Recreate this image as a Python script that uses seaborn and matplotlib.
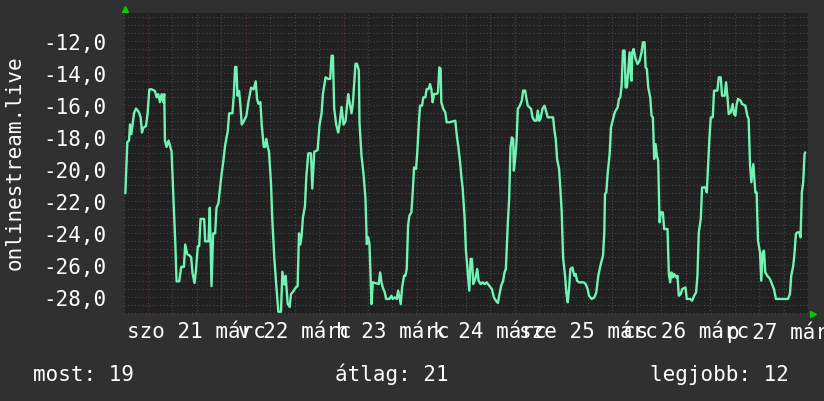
import pandas as pd
import matplotlib
matplotlib.use("Agg")
import matplotlib.pyplot as plt
from matplotlib.ticker import MultipleLocator, FixedLocator
import seaborn as sns

# hours since fri 18:00 (márc 20) and the measured values
hours = [0.45, 0.61, 0.94, 1.35, 1.59, 1.92, 2.16, 2.57, 3.06, 3.71, 4.20, 4.53, 4.86, 5.51, 5.92,
         6.33, 6.90, 7.71, 8.12, 8.53, 8.94, 9.35, 9.75, 10.0, 10.16, 10.57, 11.06, 11.47, 11.80,
         12.20, 12.69, 13.02, 13.67, 14.16, 14.82, 15.14, 15.63, 16.29, 16.61, 16.94, 17.43, 17.75,
         18.24, 18.57, 18.90, 19.80, 20.04, 20.86, 21.18, 21.59, 22.0, 22.49, 22.82, 23.31, 23.63,
         24.12, 24.45, 24.94, 25.59, 25.92, 26.73, 27.06, 27.39, 27.71, 27.96, 28.37, 28.69, 29.02,
         29.51, 30.16, 30.65, 31.31, 31.96, 32.45, 32.77, 33.10, 33.59, 33.92, 34.41, 34.73, 35.06,
         35.39, 35.71, 36.20, 36.53, 37.02, 37.51, 38.0, 38.65, 38.98, 39.47, 39.80, 40.29, 40.78,
         41.10, 41.75, 42.24, 42.73, 43.06, 43.39, 43.71, 44.04, 44.53, 44.86, 45.35, 46.0, 46.33,
         46.82, 47.63, 48.12, 48.61, 48.94, 49.59, 50.25, 50.73, 51.06, 51.39, 51.71, 52.20, 52.69,
         53.02, 53.51, 54.0, 54.49, 55.14, 55.47, 55.96, 56.29, 56.94, 57.27, 57.76, 57.92,
         58.41, 58.90, 59.39, 59.71, 60.04, 60.37, 60.86, 61.18, 62.65, 62.98, 63.31, 63.63, 64.12,
         64.45, 65.27, 65.76, 66.08, 66.57, 67.06, 67.39, 67.71, 68.04, 68.37, 68.86, 69.18, 69.51,
         69.84, 70.16, 70.65, 70.98, 71.31, 71.80, 72.12, 72.45, 72.78, 73.27, 73.59, 74.08, 74.41,
         74.90, 75.22, 75.55, 75.88, 76.20, 76.86, 77.18, 77.51, 77.84, 78.0, 78.49, 78.98, 79.31,
         79.96, 81.43, 81.76, 82.24, 82.57, 82.90, 83.22, 83.71, 84.04, 84.45, 84.86, 85.18, 85.51,
         85.84, 86.33, 86.82, 87.14, 87.63, 88.12, 88.61, 89.10, 89.76, 90.41, 90.90, 91.39, 91.88,
         92.20, 92.69, 93.18, 93.51, 93.84, 94.33, 94.65, 94.98, 95.31, 95.63, 95.80, 96.12, 96.45,
         96.78, 97.27, 97.76, 98.08, 98.57, 98.90, 99.22, 100.04, 100.37, 100.86, 101.35, 101.67,
         102.0, 102.33, 102.82, 103.31, 103.80, 104.12, 105.43, 105.76, 106.08, 106.41, 106.90,
         107.22, 107.55, 107.88, 108.37, 108.69, 109.02, 109.35, 109.67, 110.16, 110.65, 110.98,
         111.31, 111.80, 112.94, 113.43, 113.92, 114.24, 114.90, 115.55, 116.04, 116.53,
         117.03, 117.35, 117.68, 118.0, 118.17, 118.49, 118.82, 119.31, 119.64, 119.96, 120.45,
         120.78, 121.27, 121.60, 121.92, 122.25, 122.58, 122.98, 123.23, 123.56, 123.88, 124.21,
         124.54, 124.70, 124.86, 125.19, 125.68, 126.17, 126.66, 127.15, 127.47, 127.88, 128.13,
         128.45, 128.78, 129.27, 129.60, 129.92, 130.25, 130.58, 130.90, 131.23, 131.56, 131.88,
         132.37, 132.70, 133.52, 133.84, 134.17, 134.49, 134.82, 135.15, 135.64, 135.96, 136.29,
         136.78, 137.11, 137.92, 138.25, 139.07, 139.56, 140.05, 140.53, 140.86, 141.19, 141.68,
         142.0, 142.82, 143.15, 143.47, 143.80, 144.13, 144.62, 144.94, 145.76, 146.09, 146.58,
         146.90, 147.55, 147.88, 148.21, 148.53, 149.02, 149.51, 149.84, 150.17, 150.49, 150.82,
         151.47, 151.80, 152.62, 153.11, 153.43, 153.76, 154.09, 154.58, 155.07, 155.39, 155.72,
         156.21, 156.53, 156.86, 157.19, 157.51, 158.0, 158.66, 159.15, 159.64, 160.13, 163.06,
         163.56, 163.88, 164.37, 164.70, 165.02, 165.35, 165.84, 166.17, 166.49, 166.82, 167.15,
         167.31]
temps = [-21.5, -20.5, -18.3, -18.2, -17.2, -17.8, -17.3, -16.5, -16.2, -16.4, -16.75, -17.7, -17.4,
         -17.3, -16.5, -15.0, -15.0, -15.1, -15.5, -15.3, -15.8, -15.3, -15.8, -15.3, -18.2, -18.6,
         -18.2, -18.6, -18.9, -21.5, -24.5, -27.0, -27.0, -26.1, -26.1, -24.7, -25.3, -25.4, -25.5,
         -26.5, -27.1, -26.4, -24.8, -24.8, -23.1, -23.1, -24.5, -24.5, -22.4, -27.3, -24.0, -24.0,
         -22.4, -22.1, -21.3, -20.2, -19.6, -18.5, -17.6, -16.5, -16.5, -15.4, -13.6, -13.6, -15.4,
         -15.1, -16.0, -17.2, -17.0, -16.65, -15.8, -14.9, -15.0, -14.5, -15.6, -15.9, -15.8, -17.2,
         -18.6, -18.6, -18.1, -18.6, -18.9, -20.9, -23.2, -25.6, -27.3, -28.9, -28.9, -26.4, -27.2,
         -26.65, -28.4, -28.6, -27.8, -27.6, -27.4, -27.3, -24.0, -24.7, -24.15, -23.0, -22.3, -20.5,
         -19.0, -19.0, -21.2, -18.9, -18.8, -17.2, -16.5, -15.3, -14.25, -14.35, -14.35, -12.9, -12.9,
         -16.2, -17.2, -17.7, -17.2, -16.1, -17.2, -17.0, -15.3, -15.8, -16.5, -15.9, -13.4, -13.4,
         -13.8, -17.1,
         -19.15, -20.3, -21.85, -24.67, -24.25, -24.67, -28.42, -27.06, -27.17, -26.44, -27.06,
         -27.38, -27.69, -28.1, -28.1, -27.9, -28.1, -28.0, -28.1, -27.58, -28.0, -28.42, -27.38,
         -26.65, -26.65, -26.23, -23.52, -22.9, -22.69, -21.44, -19.88, -19.98, -18.83, -17.27,
         -16.02, -16.02, -15.5, -15.5, -14.98, -14.98, -14.67, -14.98, -15.81, -15.29, -15.29,
         -15.19, -13.63, -13.73, -15.81, -16.23, -16.44, -17.06, -17.06, -16.96, -17.79, -18.73,
         -19.46, -20.4, -21.13, -23.0, -25.08, -26.33, -27.58, -25.6, -25.6, -27.17, -26.85, -26.23,
         -26.96, -27.17, -27.06, -27.17, -27.06, -27.27, -27.48, -28.0, -28.21, -28.35, -27.9,
         -27.27, -26.96, -26.44, -26.23, -23.31, -21.85, -18.63, -18.0, -18.1, -20.08, -19.35,
         -18.31, -16.23, -16.02, -15.71, -15.08, -15.08, -15.6, -16.02, -16.23, -16.75, -16.96,
         -16.96, -16.33, -16.96, -16.85, -16.23, -16.02, -16.44, -16.75, -16.75, -17.58, -18.1,
         -19.35, -19.98, -21.23, -22.69, -25.5, -26.65, -27.69, -28.31, -27.48, -26.23, -26.13,
         -26.65, -26.54, -26.96, -27.06, -27.06, -27.17, -27.48, -27.9, -28.1, -28.0, -27.69, -26.65,
         -26.04, -25.71, -25.4, -23.94, -21.54, -21.44, -20.29, -19.04, -17.38, -17.06, -16.54,
         -16.33, -16.13, -15.6, -15.5, -14.77, -12.58, -12.58, -14.88, -14.88, -13.83, -12.69,
         -14.35, -14.46, -12.69, -12.48, -13.1, -13.42, -13.21, -12.69, -12.06, -12.06, -13.63,
         -13.73, -14.88, -15.5, -16.65, -16.75, -19.35, -18.42, -19.15, -19.46, -23.31, -22.69,
         -22.69, -23.73, -23.73, -26.54, -27.06, -26.44, -26.75, -26.54, -26.75, -26.65, -27.9,
         -27.79, -27.48, -27.38, -28.1, -28.1, -28.21, -27.9, -27.69, -26.65, -23.94, -23.1, -21.13,
         -21.13, -21.44, -19.77, -18.1, -16.75, -16.75, -15.08, -15.08, -14.25, -14.25, -15.4,
         -15.4, -14.56, -15.4, -16.54, -16.44, -15.92, -16.54, -16.65, -15.92, -15.6, -15.71,
         -15.92, -16.02, -16.65, -16.85, -19.67, -20.81, -19.67, -21.44, -21.44, -24.46, -25.19,
         -26.96, -25.19, -25.08, -26.44, -26.65, -26.85, -27.17, -27.48, -28.1, -28.1, -27.79,
         -26.65, -26.04, -25.19, -24.04, -23.94, -23.94, -24.25, -21.44, -20.81, -19.04, -18.94]

day_labels = ["szo 21 márc", "v 22 márc", "h 23 márc", "k 24 márc",
              "sze 25 márc", "cs 26 márc", "p 27 márc"]
stats = ["most: 19", "átlag: 21", "legjobb: 12"]
ylabel = "onlinestream.live"

df = pd.DataFrame({"hour": hours, "temp": temps})

sns.set_theme(style="dark")
plt.rcParams["font.family"] = ["DejaVu Sans Mono", "DejaVu Sans"]

bg = "#303030"
fig = plt.figure(figsize=(8.24, 4.02), dpi=100, facecolor=bg)
ax = fig.add_axes([0.1499, 0.2164, 0.8307, 0.7488])
ax.set_facecolor("#212121")

sns.lineplot(data=df, x="hour", y="temp", ax=ax, color="#72f2b4", linewidth=1.7, sort=False)

ax.set_xlim(0, 168)
ax.set_ylim(-29.04, -10.23)

# x: gray every 6h, red at midnight, labels at noon
gray_x = [h for h in range(0, 169, 6) if h % 24 != 6]
red_x = [h for h in range(6, 169, 24)]
ax.xaxis.set_major_locator(FixedLocator(gray_x))
ax.xaxis.set_minor_locator(FixedLocator(red_x))
lab = {18 + 24 * i: t for i, t in enumerate(day_labels)}
ax.set_xticklabels([lab.get(h, "") for h in gray_x])

ax.yaxis.set_major_locator(MultipleLocator(2))
ax.yaxis.set_minor_locator(MultipleLocator(0.5))
ax.yaxis.set_major_formatter(lambda v, p: f"{v:.1f}".replace(".", ","))

dots = (0, (1, 2.2))
ax.grid(False)
ax.xaxis.grid(True, which="major", color="#4c4c4c", linestyle=dots, linewidth=0.8)
ax.xaxis.grid(True, which="minor", color="#6e3434", linestyle=dots, linewidth=0.8)
ax.yaxis.grid(True, which="minor", color="#4c4c4c", linestyle=dots, linewidth=0.8)
ax.yaxis.grid(True, which="major", color="#6e3434", linestyle=dots, linewidth=0.8)
ax.set_axisbelow(True)

ax.tick_params(axis="both", which="both", length=0, colors="white", labelsize=15)
ax.tick_params(axis="y", pad=12)
ax.tick_params(axis="x", pad=5)
for s in ax.spines.values():
    s.set_visible(False)

ax.set_xlabel("")
ax.set_ylabel(ylabel, color="white", fontsize=15)
ax.yaxis.set_label_coords(-0.145, 0.505)

# rrdtool style axis arrows
ax.plot([0.002], [1.013], marker="^", color="#00cc00", markersize=5, transform=ax.transAxes, clip_on=False)
ax.plot([1.007], [0.0], marker=">", color="#00cc00", markersize=5, transform=ax.transAxes, clip_on=False)

xs = [0.040, 0.4066, 0.7888]
for x, t in zip(xs, stats):
    fig.text(x, 0.0522, t, color="white", fontsize=15, va="baseline", ha="left")

fig.savefig("out.png", dpi=100, facecolor=bg)
